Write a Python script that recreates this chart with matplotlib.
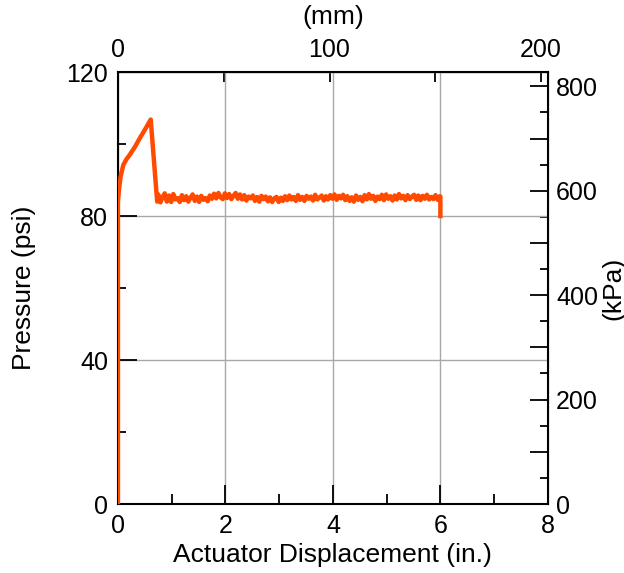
import matplotlib
matplotlib.use('Agg')
import matplotlib.pyplot as plt
from matplotlib.ticker import FixedLocator, FuncFormatter
import numpy as np

plt.rcParams['font.family'] = ['Liberation Sans', 'DejaVu Sans']

# Subida inicial e pico (in., psi)
x_subida = [0.0, 0.0, 0.0, 0.02, 0.05, 0.10, 0.16, 0.22, 0.32, 0.41, 0.51, 0.61, 0.73]
p_subida = [0.0, 40.0, 84.0, 87.5, 91.0, 94.2, 95.8, 97.0, 99.3, 101.7, 104.2, 106.8, 84.0]

# Patamar com ruído (in., psi)
x_patamar = [0.75 + 0.04 * i for i in range(132)]
p_patamar = [
    86.0, 83.8, 85.2, 86.3, 84.0, 85.7, 83.9, 86.1, 84.6, 85.0, 83.9,
    85.8, 84.4, 85.5, 84.0, 85.1, 86.0, 84.2, 85.4, 83.9, 85.6, 84.5,
    85.0, 84.1, 85.7, 84.8, 86.2, 84.9, 86.4, 85.2, 84.7, 86.3, 85.0,
    86.1, 84.7, 85.6, 86.4, 84.8, 86.0, 84.6, 85.8, 84.3, 85.4, 84.9,
    85.7, 84.2, 85.3, 84.0, 85.6, 84.7, 85.4, 84.1, 85.2, 83.9, 84.9,
    85.3, 83.9, 85.1, 84.2, 85.5, 84.4, 85.7, 84.6, 85.3, 84.2, 85.8,
    84.5, 85.3, 84.2, 85.6, 84.8, 85.4, 84.3, 85.9, 84.6, 85.1, 85.7,
    84.3, 85.5, 84.6, 85.8, 84.8, 86.0, 84.5, 85.6, 84.9, 85.9, 84.4,
    85.5, 84.2, 85.2, 84.0, 85.7, 84.5, 85.3, 84.1, 85.8, 84.6, 86.1,
    84.8, 85.6, 84.2, 85.4, 84.7, 85.9, 84.4, 86.0, 84.8, 85.5, 84.3,
    85.7, 84.6, 86.1, 84.9, 85.6, 84.4, 85.8, 84.7, 85.4, 85.9, 84.5,
    85.7, 84.4, 85.6, 84.8, 85.9, 84.6, 85.3, 84.7, 85.8, 84.5, 85.5,
]
x_final = [6.0, 6.0]
p_final = [85.4, 80.0]

x = np.array(x_subida + x_patamar + x_final)
p = np.array(p_subida + p_patamar + p_final)

IN_MM = 25.4
PSI_KPA = 6.894757

fig = plt.figure(figsize=(6.24, 5.73), dpi=100)
ax = fig.add_axes([0.189, 0.1204, 0.689, 0.7539])
ax.plot(x, p, color='#ff4a00', lw=3.2, solid_joinstyle='round', zorder=3)

ax.set_xlim(0, 8)
ax.set_ylim(0, 120)
ax.xaxis.set_major_locator(FixedLocator([0, 2, 4, 6, 8]))
ax.xaxis.set_minor_locator(FixedLocator([1, 3, 5, 7]))
ax.yaxis.set_major_locator(FixedLocator([0, 40, 80, 120]))
ax.yaxis.set_minor_locator(FixedLocator([20, 60, 100]))
ax.grid(True, which='major', color='#a8a8a8', lw=1.0, zorder=0)

ax.tick_params(which='major', direction='in', length=14, width=1.3, labelsize=18, pad=7)
ax.tick_params(which='minor', direction='in', length=7, width=1.3)
ax.tick_params(axis='y', which='minor', length=6)
for s in ax.spines.values():
    s.set_linewidth(1.5)

ax.set_xlabel('Actuator Displacement (in.)', fontsize=19, labelpad=4)
ax.set_ylabel('Pressure (psi)', fontsize=19, labelpad=22)

# Eixo superior em mm
topo = ax.secondary_xaxis('top', functions=(lambda v: v * IN_MM, lambda v: v / IN_MM))
topo.xaxis.set_major_locator(FixedLocator([0, 100, 200]))
topo.xaxis.set_minor_locator(FixedLocator([50, 150]))
topo.tick_params(which='both', direction='in', length=7, width=1.3, labelsize=18, pad=7)
topo.set_xlabel('(mm)', fontsize=19, labelpad=10)

# Eixo direito em kPa
dir_ax = ax.secondary_yaxis('right', functions=(lambda v: v * PSI_KPA, lambda v: v / PSI_KPA))
dir_ax.yaxis.set_major_locator(FixedLocator([0, 100, 200, 300, 400, 500, 600, 700, 800]))
dir_ax.yaxis.set_minor_locator(FixedLocator([50, 150, 250, 350, 450, 550, 650, 750]))
dir_ax.yaxis.set_major_formatter(FuncFormatter(lambda v, pos: f'{v:.0f}' if round(v) % 200 == 0 else ''))
dir_ax.tick_params(which='major', direction='in', length=13, width=1.3, labelsize=18, pad=6)
dir_ax.tick_params(which='minor', direction='in', length=6, width=1.3)
dir_ax.set_ylabel('(kPa)', fontsize=19, labelpad=2)

plt.savefig('out.png', dpi=100)
